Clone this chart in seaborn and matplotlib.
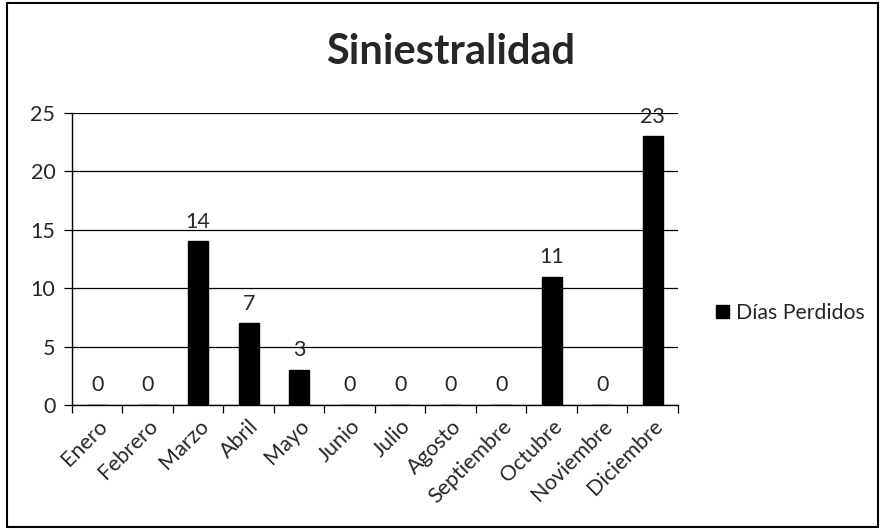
import matplotlib
matplotlib.use("Agg")
import matplotlib.pyplot as plt
import seaborn as sns
import pandas as pd
from matplotlib.patches import Rectangle

months = ["Enero", "Febrero", "Marzo", "Abril", "Mayo", "Junio", "Julio",
          "Agosto", "Septiembre", "Octubre", "Noviembre", "Diciembre"]
dias_perdidos = [0, 0, 14, 7, 3, 0, 0, 0, 0, 11, 0, 23]
series_name = "Días Perdidos"
title = "Siniestralidad"
yticks = [0, 5, 10, 15, 20, 25]

sns.set_theme(style="white")
plt.rcParams['font.family'] = ['Lato', 'DejaVu Sans']
FS = 15.5

df = pd.DataFrame({"Mes": months, "Dias": dias_perdidos})

fig = plt.figure(figsize=(8.82, 5.30), dpi=100)
ax = fig.add_axes([0.0816, 0.2358, 0.6871, 0.551])

sns.barplot(data=df, x="Mes", y="Dias", color="black", width=0.4,
            saturation=1, label=series_name, ax=ax)
for p in ax.patches:
    p.set_edgecolor("black")

ax.set_xlim(-0.5, len(months) - 0.5)
ax.set_ylim(0, 25)
ax.set_yticks(yticks)
ax.set_yticklabels([str(t) for t in yticks], fontsize=FS)
ax.yaxis.grid(True, color="black", linewidth=0.9)
ax.set_axisbelow(True)
ax.set_xlabel("")
ax.set_ylabel("")

# x ticks at category boundaries, labels at centers
ax.set_xticks([i - 0.5 for i in range(len(months) + 1)], minor=False)
ax.set_xticklabels([])
ax.set_xticks(range(len(months)), minor=True)
ax.set_xticklabels(months, minor=True, rotation=45, ha="right",
                   rotation_mode="anchor", fontsize=FS)
ax.tick_params(axis="x", which="major", direction="out", length=6, width=0.9,
               color="black", bottom=True)
ax.tick_params(axis="x", which="minor", length=0, pad=8)
ax.tick_params(axis="y", direction="out", length=6, width=0.9, color="black",
               left=True, labelsize=FS, pad=6)

for side in ["top", "right"]:
    ax.spines[side].set_visible(False)
for side in ["left", "bottom"]:
    ax.spines[side].set_color("black")
    ax.spines[side].set_linewidth(1.0)

ax.bar_label(ax.containers[0], labels=[str(v) for v in dias_perdidos],
             padding=7, fontsize=FS)

fig.text(0.511, 0.902, title, ha="center", va="center", fontsize=30,
         fontweight="bold")

leg = ax.legend(loc="center left", bbox_to_anchor=(1.063, 0.315), frameon=False,
                fontsize=15.3, handlelength=0.6, handleheight=0.6,
                handletextpad=0.35, borderpad=0, borderaxespad=0)

fig.patches.append(Rectangle((0.008, 0.006), 0.988, 0.988, transform=fig.transFigure,
                             fill=False, edgecolor="black", linewidth=1.5))

fig.savefig("out.png", dpi=100)
